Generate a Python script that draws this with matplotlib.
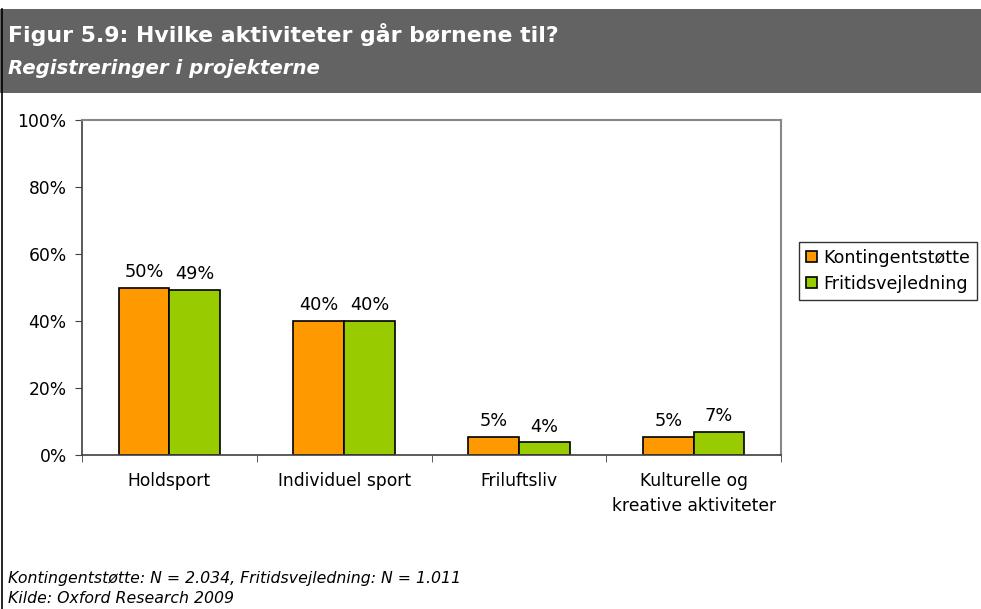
import matplotlib
matplotlib.use("Agg")
import matplotlib.pyplot as plt
import numpy as np
from matplotlib.patches import Rectangle
from matplotlib.lines import Line2D

categories = ["Holdsport", "Individuel sport", "Friluftsliv", "Kulturelle og\nkreative aktiviteter"]
series_names = ["Kontingentstøtte", "Fritidsvejledning"]
kontingent = [49.8, 40.0, 5.4, 5.4]
fritid = [49.2, 40.0, 3.8, 6.9]
yticks = [0, 20, 40, 60, 80, 100]
ytick_labels = ["0%", "20%", "40%", "60%", "80%", "100%"]
title = "Figur 5.9: Hvilke aktiviteter går børnene til?"
subtitle = "Registreringer i projekterne"
note1 = "Kontingentstøtte: N = 2.034, Fritidsvejledning: N = 1.011"
note2 = "Kilde: Oxford Research 2009"

W, H = 981, 609
fig = plt.figure(figsize=(W/100, H/100), dpi=100)
fig.patch.set_facecolor("white")
plt.rcParams['font.family'] = ['DejaVu Sans']

# header band
fig.patches.append(Rectangle((0, 1-93/H), 1, (93-9)/H, transform=fig.transFigure,
                             facecolor="#636363", edgecolor="none", zorder=0))
fig.lines.append(Line2D([1.5/W, 1.5/W], [0, 1-9/H], transform=fig.transFigure, color="black", lw=1.2))
fig.text(8/W, 1-42/H, title, color="white", fontsize=15.8, fontweight="bold", va="baseline")
fig.text(8/W, 1-74/H, subtitle, color="white", fontsize=14.2, fontweight="bold", fontstyle="italic", va="baseline")

ax = fig.add_axes([82/W, 1-455/H, (781-82)/W, (455-120)/H])
x = np.arange(len(categories))
w = 0.29
colors = ["#FF9900", "#99CC00"]
b1 = ax.bar(x - w/2, kontingent, w, color=colors[0], edgecolor="black", lw=1.2, label=series_names[0])
b2 = ax.bar(x + w/2, fritid, w, color=colors[1], edgecolor="black", lw=1.2, label=series_names[1])
for bars, vals in ((b1, kontingent), (b2, fritid)):
    for r, v in zip(bars, vals):
        ax.text(r.get_x() + r.get_width()/2, v + 2.0, f"{round(v):.0f}%", ha="center", va="bottom", fontsize=12.8)

ax.set_xlim(-0.5, len(categories) - 0.5)
ax.set_ylim(0, 100)
ax.set_yticks(yticks)
ax.set_yticklabels(ytick_labels, fontsize=12.3)
ax.set_xticks(x)
ax.set_xticklabels(categories, fontsize=12.3, linespacing=1.5)
ax.tick_params(axis="x", length=0, pad=12)
ax.set_xticks(np.arange(len(categories)+1) - 0.5, minor=True)
ax.tick_params(axis="x", which="minor", length=5, color="#404040")
ax.tick_params(axis="y", length=5, color="#404040", pad=6)
for s in ["left", "bottom"]:
    ax.spines[s].set_color("#404040")
    ax.spines[s].set_linewidth(1.2)
for s in ["top", "right"]:
    ax.spines[s].set_color("#888888")
    ax.spines[s].set_linewidth(1.5)

leg = ax.legend(loc="upper left", bbox_to_anchor=(799/W, 1-242/H), bbox_transform=fig.transFigure,
                fontsize=12.6, frameon=True, fancybox=False, edgecolor="black", handlelength=0.6,
                handleheight=0.6, handletextpad=0.4, borderpad=0.4, labelspacing=0.45, borderaxespad=0)
leg.get_frame().set_linewidth(1.0)

fig.text(8/W, 1-583/H, note1, fontsize=11.3, fontstyle="italic", va="baseline")
fig.text(8/W, 1-603/H, note2, fontsize=11.3, fontstyle="italic", va="baseline")

fig.savefig("out.png", dpi=100)
